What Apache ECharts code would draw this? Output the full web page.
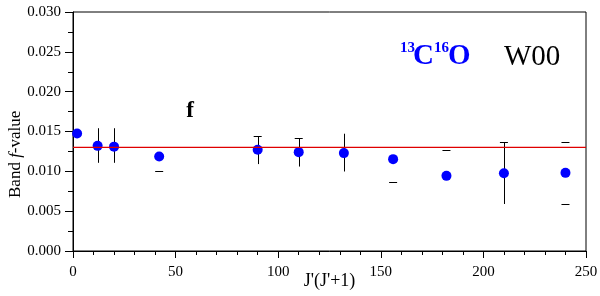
<!DOCTYPE html>
<html>
<head>
<meta charset="utf-8">
<script src="https://cdn.jsdelivr.net/npm/echarts@6/dist/echarts.min.js"></script>
<style>html,body{margin:0;padding:0;background:#fff}#c{width:600px;height:296px}</style>
</head>
<body>
<div id="c"></div>
<script>
// J'(J'+1) values
var xVals = [2, 12, 20, 42, 90, 110, 132, 156, 182, 210, 240];
// Band f-values
var fVals = [0.01475, 0.0132, 0.0131, 0.01186, 0.0127, 0.01241, 0.01229, 0.01153, 0.00943, 0.00977, 0.00981];
// error-bar segments (vertical line), null = none
var barLow  = [null, 0.01107, 0.01107, null, 0.01091, 0.0106, 0.00998, null, null, 0.0059, null];
var barHigh = [null, 0.01541, 0.01541, null, 0.01438, 0.01418, 0.01472, null, null, 0.01367, null];
// error-bar caps, null = none
var capLow  = [null, null, null, 0.01006, null, null, null, 0.00868, null, null, 0.0059];
var capHigh = [null, null, null, null, 0.01438, 0.01418, null, null, 0.01266, 0.01367, 0.01367];
// fitted constant value
var fitValue = 0.0130;
var xTicks = [0, 250, 50];
var yTicks = [0, 0.03, 0.005];

var FONT = '"Liberation Serif", "Times New Roman", serif';

var points = xVals.map(function (x, i) { return [x, fVals[i]]; });
var bars = [];
xVals.forEach(function (x, i) { if (barLow[i] != null) bars.push([x, barLow[i], barHigh[i]]); });
var caps = [];
xVals.forEach(function (x, i) {
  if (capLow[i] != null) caps.push([x, capLow[i]]);
  if (capHigh[i] != null) caps.push([x, capHigh[i]]);
});

var chart = echarts.init(document.getElementById('c'), null, {renderer: 'canvas'});
chart.setOption({
  animation: false,
  backgroundColor: '#fff',
  grid: {left: 73, right: 14, top: 12, bottom: 45, containLabel: false, outerBoundsMode: 'none',
         show: true, borderColor: '#000', borderWidth: 1, backgroundColor: 'transparent'},
  xAxis: {
    type: 'value', min: xTicks[0], max: xTicks[1], interval: xTicks[2],
    name: "J'(J'+1)", nameLocation: 'middle', nameGap: 21, nameMoveOverlap: false,
    nameTextStyle: {fontFamily: FONT, fontSize: 18, color: '#000'},
    axisLine: {lineStyle: {color: '#000', width: 1}},
    axisTick: {show: true, inside: false, length: 7, lineStyle: {color: '#000'}},
    minorTick: {show: true, splitNumber: 5, length: 4, lineStyle: {color: '#000'}},
    axisLabel: {fontFamily: FONT, fontSize: 15, color: '#000', margin: 14},
    splitLine: {show: false}
  },
  yAxis: {
    type: 'value', min: yTicks[0], max: yTicks[1], interval: yTicks[2],
    axisLine: {show: true, lineStyle: {color: '#000', width: 1}},
    axisTick: {show: true, inside: false, length: 8, lineStyle: {color: '#000'}},
    minorTick: {show: true, splitNumber: 2, length: 5, lineStyle: {color: '#000'}},
    axisLabel: {fontFamily: FONT, fontSize: 15, color: '#000', margin: 12, formatter: function (v) { return v.toFixed(3); }},
    splitLine: {show: false}
  },
  graphic: [
    {type: 'text', rotation: Math.PI / 2, originX: 0, originY: 0,
     x: 7, y: 198,
     style: {text: '{n|Band }{i|f}{n|-value}', rich: {n: {fontFamily: FONT, fontSize: 17, fill: '#000'}, i: {fontFamily: FONT, fontSize: 17, fontStyle: 'italic', fill: '#000'}}}},
    {type: 'text', x: 190, y: 111, style: {text: 'f', fontFamily: FONT, fontSize: 23, fontWeight: 'bold', fill: '#000', align: 'center', verticalAlign: 'middle'}},
    {type: 'text', x: 400, y: 48, style: {text: '13', fontFamily: FONT, fontSize: 15, fontWeight: 'bold', fill: '#0000ff', align: 'left', verticalAlign: 'middle'}},
    {type: 'text', x: 413, y: 57, style: {text: 'C', fontFamily: FONT, fontSize: 29, fontWeight: 'bold', fill: '#0000ff', align: 'left', verticalAlign: 'middle'}},
    {type: 'text', x: 434, y: 48, style: {text: '16', fontFamily: FONT, fontSize: 15, fontWeight: 'bold', fill: '#0000ff', align: 'left', verticalAlign: 'middle'}},
    {type: 'text', x: 448, y: 57, style: {text: 'O', fontFamily: FONT, fontSize: 29, fontWeight: 'bold', fill: '#0000ff', align: 'left', verticalAlign: 'middle'}},
    {type: 'text', x: 504, y: 57, style: {text: 'W00', fontFamily: FONT, fontSize: 29, fill: '#000', align: 'left', verticalAlign: 'middle'}}
  ],
  series: [
    {
      type: 'custom', z: 3, silent: true,
      data: bars,
      renderItem: function (params, api) {
        var p1 = api.coord([api.value(0), api.value(1)]);
        var p2 = api.coord([api.value(0), api.value(2)]);
        var x = Math.round(p1[0]) + 0.5;
        return {type: 'line', shape: {x1: x, y1: p1[1], x2: x, y2: p2[1]}, style: {stroke: '#000', lineWidth: 1}};
      }
    },
    {
      type: 'custom', z: 3, silent: true,
      data: caps,
      renderItem: function (params, api) {
        var p = api.coord([api.value(0), api.value(1)]);
        var y = Math.round(p[1]) + 0.5;
        return {type: 'line', shape: {x1: p[0] - 4, y1: y, x2: p[0] + 4, y2: y}, style: {stroke: '#000', lineWidth: 1}};
      }
    },
    {
      type: 'scatter', z: 4, data: points, symbol: 'circle', symbolSize: 10,
      itemStyle: {color: '#0000ff', opacity: 1}
    },
    {
      type: 'line', z: 5, data: [[xTicks[0], fitValue], [xTicks[1], fitValue]],
      showSymbol: false, symbol: 'none', lineStyle: {color: '#e00000', width: 1.2}
    }
  ]
});
</script>
</body>
</html>
